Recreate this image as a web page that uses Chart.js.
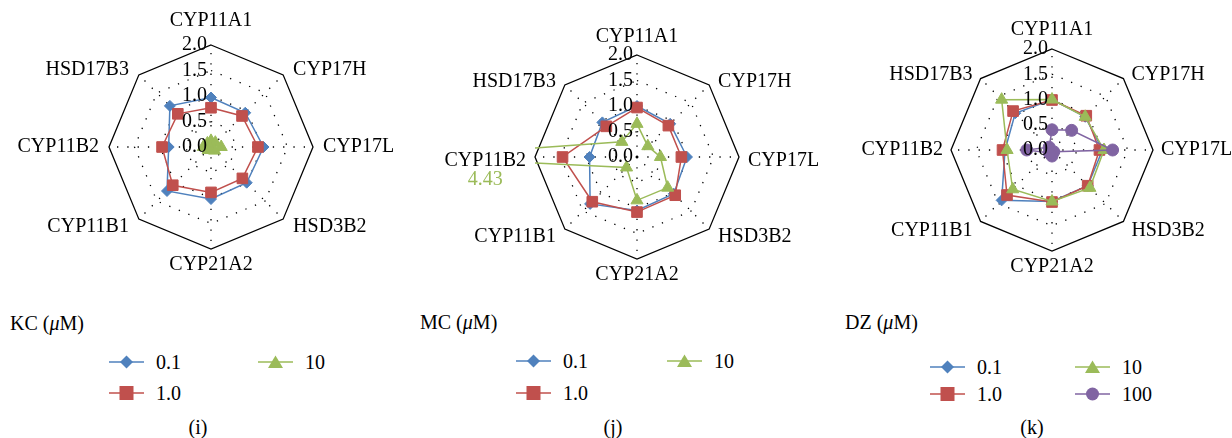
<!DOCTYPE html>
<html>
<head>
<meta charset="utf-8">
<script src="https://cdn.jsdelivr.net/npm/chart.js@4.4.1/dist/chart.umd.min.js"></script>
<style>
  html, body { margin: 0; padding: 0; background: #fff; }
  body {
    width: 1232px; height: 438px; position: relative; overflow: hidden;
    font-family: "Liberation Serif", "Times New Roman", serif; color: #000;
  }
  canvas { position: absolute; top: 0; }
  .txt { position: absolute; font-size: 20px; line-height: 20px; white-space: nowrap; transform: translateY(-50%); }
  .key { position: absolute; transform: translateY(-50%); }
  .key svg { display: block; }
</style>
</head>
<body>
<canvas id="chartI" width="420" height="300" style="left:0"></canvas>
<canvas id="chartJ" width="420" height="300" style="left:420px"></canvas>
<canvas id="chartK" width="392" height="300" style="left:840px"></canvas>
<div id="legends"></div>
<script>
// Radar panels (i) KC, (j) MC, (k) DZ - relative expression per gene

const genes = ['CYP11A1', 'CYP17H', 'CYP17L', 'HSD3B2', 'CYP21A2', 'CYP11B1', 'CYP11B2', 'HSD17B3'];
const tickValues = [0, 0.5, 1.0, 1.5, 2.0];
const doses = ['0.1', '1.0', '10', '100'];

// KC (uM)
const kc01 = [0.97, 0.95, 1.03, 0.99, 1.02, 1.22, 0.83, 1.14];
const kc1 = [0.77, 0.86, 0.92, 0.87, 0.89, 1.06, 0.96, 0.92];
const kc10 = [0.12, 0.12, 0.20, 0.10, 0.06, 0.08, 0.15, 0.10];

// MC (uM)
const mc01 = [1.00, 0.92, 0.98, 1.02, 1.05, 1.30, 0.93, 0.96];
const mc1 = [0.97, 0.87, 0.87, 1.06, 1.08, 1.24, 1.46, 0.85];
const mc10 = [0.65, 0.30, 0.46, 0.85, 0.85, 0.29, 4.43, 0.42];

// DZ (uM)
const dz01 = [1.00, 0.93, 1.00, 1.00, 1.02, 1.41, 0.93, 1.03];
const dz1 = [0.99, 0.96, 0.94, 1.00, 1.03, 1.26, 0.98, 1.09];
const dz10 = [1.00, 0.93, 1.03, 1.06, 1.02, 1.10, 0.89, 1.41];
const dz100 = [0.40, 0.55, 1.20, 0.05, 0.12, 0.08, 0.50, 0.08];

const seriesColors = ['#4F81BD', '#C0504D', '#9BBB59', '#8064A2'];
const pointStyles = ['rectRot', 'rect', 'triangle', 'circle'];
const pointRadii = [5.5, 7.5, 7, 6];
const FONT = '20px "Liberation Serif", "Times New Roman", serif';

// draws value/category labels, clips the series to the plot square
const overlay = {
    id: 'overlay',
    beforeDatasetsDraw(chart) {
        const s = chart.scales.r;
        const ctx = chart.ctx;
        const R = s.drawingArea;
        ctx.save();
        ctx.beginPath();
        ctx.rect(s.xCenter - R, s.yCenter - R - 10, 2 * R, 2 * R + 20);
        ctx.clip();
    },
    afterDatasetsDraw(chart, args, opts) {
        const s = chart.scales.r;
        const ctx = chart.ctx;
        const R = s.drawingArea;
        ctx.restore();
        ctx.save();
        ctx.font = FONT;
        ctx.fillStyle = '#000';
        ctx.textBaseline = 'middle';

        // tick labels, right aligned on the vertical axis
        ctx.textAlign = 'right';
        s.ticks.forEach(t => {
            const y = s.yCenter - s.getDistanceFromCenterForValue(t.value);
            ctx.fillText(t.value.toFixed(1), s.xCenter - 4, y);
        });

        // category labels
        const boxes = [];
        chart.data.labels.forEach((lab, i) => {
            const p = s.getPointPosition(i, R);
            const a = s.getIndexAngle(i);
            const sx = Math.sin(a), sy = -Math.cos(a);
            let x = p.x, y = p.y;
            if (Math.abs(sx) < 0.1) {
                ctx.textAlign = 'center';
                y += sy < 0 ? -opts.top : opts.bottom;
            } else {
                ctx.textAlign = sx > 0 ? 'left' : 'right';
                x += sx > 0 ? opts.side : -opts.side;
                y += Math.abs(sy) < 0.1 ? opts.mid : (sy < 0 ? opts.up : opts.down);
            }
            ctx.fillText(lab, x, y);
            boxes[i] = { x: x, y: y, align: ctx.textAlign, w: ctx.measureText(lab).width };
        });

        // values past the outer ring get a data label under the category
        chart.data.datasets.forEach(ds => {
            ds.data.forEach((v, i) => {
                if (v <= s.max) return;
                const b = boxes[i];
                let tx = b.x;
                if (b.align === 'right') tx = b.x - b.w / 2;
                if (b.align === 'left') tx = b.x + b.w / 2;
                ctx.fillStyle = ds.borderColor;
                ctx.textAlign = 'center';
                ctx.fillText(v.toFixed(2), tx, b.y + 19);
            });
        });
        ctx.restore();
    }
};

const panels = [
    { id: 'chartI', name: 'KC', caption: '(i)', series: [kc01, kc1, kc10],
      cx: 211, cy: 147, r: 102,
      text: { top: 24, bottom: 16, side: 10, up: -5, down: 8, mid: 0 },
      legend: { left: 0, titleX: 10, titleY: 323, cols: [109, 258], rows: [362, 393], capX: 198 } },
    { id: 'chartJ', name: 'MC', caption: '(j)', series: [mc01, mc1, mc10],
      cx: 217, cy: 157, r: 102,
      text: { top: 18, bottom: 16, side: 9, up: -3, down: 8, mid: 4 },
      legend: { left: 420, titleX: 420, titleY: 322, cols: [516, 667], rows: [361, 393], capX: 613 } },
    { id: 'chartK', name: 'DZ', caption: '(k)', series: [dz01, dz1, dz10, dz100],
      cx: 212, cy: 150, r: 101,
      text: { top: 19, bottom: 16, side: 8, up: -4, down: 9, mid: 0 },
      legend: { left: 840, titleX: 845, titleY: 322, cols: [930, 1075], rows: [367, 394], capX: 1032 } }
];

function makeDataset(values, i) {
    return {
        label: doses[i],
        data: values,
        borderColor: seriesColors[i],
        backgroundColor: seriesColors[i],
        pointBackgroundColor: seriesColors[i],
        pointBorderColor: seriesColors[i],
        pointStyle: pointStyles[i],
        pointRadius: pointRadii[i],
        pointBorderWidth: 1,
        borderWidth: 1.5,
        fill: false,
        order: 4 - i
    };
}

function initRadar(panel) {
    const canvas = document.getElementById(panel.id);
    const W = canvas.width, H = canvas.height;
    new Chart(canvas, {
        type: 'radar',
        data: {
            labels: genes,
            datasets: panel.series.map(makeDataset)
        },
        options: {
            responsive: false,
            animation: false,
            layout: {
                padding: {
                    left: panel.cx - panel.r,
                    top: panel.cy - panel.r,
                    right: W - panel.cx - panel.r,
                    bottom: H - panel.cy - panel.r
                }
            },
            plugins: {
                legend: { display: false },
                tooltip: { enabled: false },
                overlay: panel.text
            },
            scales: {
                r: {
                    min: tickValues[0],
                    max: tickValues[tickValues.length - 1],
                    ticks: { stepSize: tickValues[1] - tickValues[0], display: false },
                    pointLabels: { display: false },
                    grid: {
                        color: '#000',
                        lineWidth: ctx => ctx.tick.value >= 2 ? 1.3 : 1.3
                    },
                    border: {
                        dash: ctx => ctx.tick.value >= 2 ? [] : [1.3, 9]
                    },
                    angleLines: { color: '#000', lineWidth: 1.3, borderDash: [1.3, 9] }
                }
            }
        },
        plugins: [overlay]
    });
}

function markerSvg(i) {
    const c = seriesColors[i];
    let m = '';
    if (pointStyles[i] === 'rectRot') m = `<polygon points="17.5,11 24,17.5 17.5,24 11,17.5" fill="${c}"/>`;
    if (pointStyles[i] === 'rect') m = `<rect x="10.5" y="10.5" width="14" height="14" fill="${c}"/>`;
    if (pointStyles[i] === 'triangle') m = `<polygon points="17.5,11 25,23.5 10,23.5" fill="${c}"/>`;
    if (pointStyles[i] === 'circle') m = `<circle cx="17.5" cy="17.5" r="6.5" fill="${c}"/>`;
    return `<svg width="35" height="35" viewBox="0 0 35 35"><line x1="0" y1="17.5" x2="35" y2="17.5" stroke="${c}" stroke-width="1.6"/>${m}</svg>`;
}

function buildLegend(panel) {
    const root = document.getElementById('legends');
    const L = panel.legend;
    let html = `<div class="txt" style="left:${L.titleX}px;top:${L.titleY}px">${panel.name} (<i>μ</i>M)</div>`;
    panel.series.forEach((s, i) => {
        const x = L.cols[Math.floor(i / 2)];
        const y = L.rows[i % 2];
        html += `<div class="key" style="left:${x}px;top:${y}px">${markerSvg(i)}</div>`;
        html += `<div class="txt" style="left:${x + 47}px;top:${y}px">${doses[i]}</div>`;
    });
    html += `<div class="txt" style="left:${L.capX}px;top:427px;transform:translate(-50%,-50%)">${panel.caption}</div>`;
    root.insertAdjacentHTML('beforeend', html);
}

panels.forEach(p => {
    initRadar(p);
    buildLegend(p);
});
</script>
</body>
</html>
